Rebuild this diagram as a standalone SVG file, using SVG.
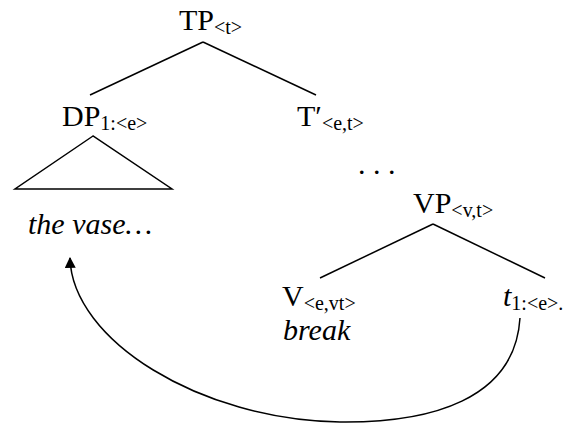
<svg xmlns="http://www.w3.org/2000/svg" width="578" height="427" viewBox="0 0 578 427">
<style>
text{font-family:"Liberation Serif","DejaVu Serif","Times New Roman",serif;fill:#000}
.m{font-size:30px}
.s{font-size:20px}
.i{font-style:italic}
.ln{stroke:#000;stroke-width:1.5;fill:none}
</style>
<defs>
<marker id="ah" viewBox="0 0 10 10" refX="9" refY="5" markerWidth="11" markerHeight="11" markerUnits="userSpaceOnUse" orient="auto">
<path d="M0,0 L10,5 L0,10 Z" fill="#000"/>
</marker>
</defs>
<rect width="578" height="427" fill="#fff"/>
<g id="connectors">
<line class="ln" x1="203" y1="42" x2="90" y2="95"/>
<line class="ln" x1="203" y1="42" x2="316" y2="95"/>
<line class="ln" x1="433" y1="224" x2="320" y2="278"/>
<line class="ln" x1="433" y1="224" x2="545" y2="278"/>
<path class="ln" d="M520,318 C515,400 430,423 340,422 C200,420 72,340 70,258" marker-end="url(#ah)"/>
</g>
<g id="TP"><text x="179" y="30"><tspan class="m">TP</tspan><tspan class="s" dy="4">&lt;t&gt;</tspan></text></g>
<g id="DP"><text x="62" y="126"><tspan class="m">DP</tspan><tspan class="s" dy="4">1:&lt;e&gt;</tspan></text></g>
<g id="DP-triangle"><path class="ln" d="M93,136 L15,189 L172,189 Z"/></g>
<g id="the-vase"><text class="m i" x="28" y="234">the vase…</text></g>
<g id="Tbar"><text x="297" y="126"><tspan class="m">T′</tspan><tspan class="s" dy="4">&lt;e,t&gt;</tspan></text></g>
<g id="dots"><text class="m" x="358" y="174">. . .</text></g>
<g id="VP"><text x="413" y="213"><tspan class="m">VP</tspan><tspan class="s" dy="4">&lt;v,t&gt;</tspan></text></g>
<g id="V"><text x="282" y="306"><tspan class="m">V</tspan><tspan class="s" dy="4">&lt;e,vt&gt;</tspan></text></g>
<g id="break"><text class="m i" x="283" y="340">break</text></g>
<g id="t"><text x="503" y="306"><tspan class="m i">t</tspan><tspan class="s" dy="4">1:&lt;e&gt;.</tspan></text></g>
</svg>
